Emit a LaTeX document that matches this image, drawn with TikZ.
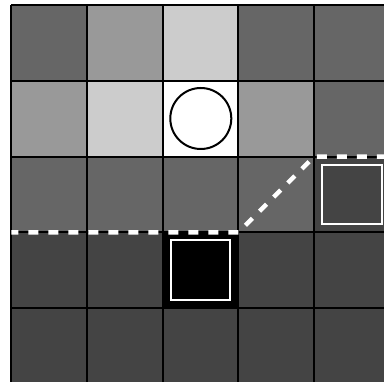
\documentclass[tikz,border=0pt]{standalone}
\definecolor{gA}{HTML}{666666}
\definecolor{gB}{HTML}{999999}
\definecolor{gC}{HTML}{CCCCCC}
\definecolor{gD}{HTML}{444444}
\begin{document}
\begin{tikzpicture}[x=1pt,y=-1pt,
  gridline/.style={black,line width=2pt},
  innersq/.style={white,line width=2pt},
  pathline/.style={white,line width=4.5pt,dash pattern=on 10pt off 10pt,dash phase=3pt}]
\useasboundingbox (0,0) rectangle (384,382);
\clip (0,0) rectangle (384,382);
\def\ox{11.3}\def\oy{5.3}\def\s{75.7}
\foreach \r/\row in {0/{gA,gB,gC,gA,gA},1/{gB,gC,white,gB,gA},2/{gA,gA,gA,gA,gD},3/{gD,gD,black,gD,gD},4/{gD,gD,gD,gD,gD}}{
  \foreach \c [count=\i from 0] in \row {
    \fill[\c] ({\ox+\s*\i},{\oy+\s*\r}) rectangle ++(\s,\s);
  }
}
\foreach \k in {0,...,5}{
  \draw[gridline] ({\ox+\s*\k},\oy) -- ({\ox+\s*\k},{\oy+5*\s});
  \draw[gridline] (\ox,{\oy+\s*\k}) -- ({\ox+5*\s},{\oy+\s*\k});
}
\draw[black,line width=2pt,fill=white] (200.8,118.5) circle[radius=30.5];
\draw[innersq] (170.8,240.5) rectangle ++(59.5,59.5);
\draw[innersq] (322.2,164.8) rectangle ++(59.5,59.5);
\draw[pathline] (11.3,232.4) -- (238.4,232.4) -- (314.1,156.7) -- (395,156.7);
\end{tikzpicture}
\end{document}
